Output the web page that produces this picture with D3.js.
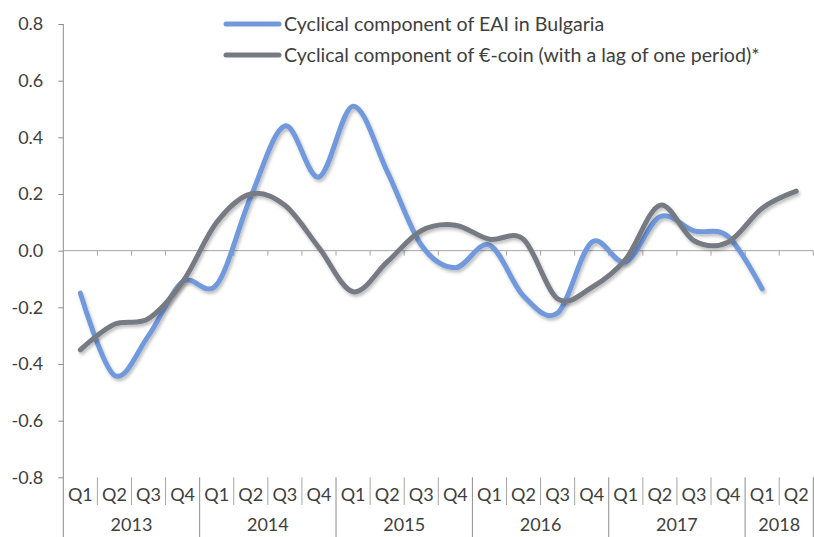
<!DOCTYPE html>
<html>
<head>
<meta charset="utf-8">
<script src="https://cdn.jsdelivr.net/npm/d3@7"></script>
<style>
  html, body { margin: 0; padding: 0; background: #fff; }
  svg { display: block; font-family: Lato, "Open Sans", sans-serif; }
</style>
</head>
<body>
<div id="chart"></div>
<script>
// quarters Q1 2013 .. Q2 2018
const QUARTERS = ["Q1","Q2","Q3","Q4","Q1","Q2","Q3","Q4","Q1","Q2","Q3","Q4",
                  "Q1","Q2","Q3","Q4","Q1","Q2","Q3","Q4","Q1","Q2"];
const YEARS = [
  { label: "2013", start: 0, end: 4 },
  { label: "2014", start: 4, end: 8 },
  { label: "2015", start: 8, end: 12 },
  { label: "2016", start: 12, end: 16 },
  { label: "2017", start: 16, end: 20 },
  { label: "2018", start: 20, end: 22 }
];
const Y_TICKS = [-0.8, -0.6, -0.4, -0.2, 0, 0.2, 0.4, 0.6, 0.8];

// Cyclical component of EAI in Bulgaria (ends Q1 2018)
const EAI = [-0.15, -0.44, -0.30, -0.11, -0.12, 0.19, 0.44, 0.26, 0.51, 0.28, 0.02, -0.06,
             0.02, -0.16, -0.22, 0.03, -0.04, 0.12, 0.07, 0.05, -0.135];
// Cyclical component of €-coin (lag of one period)
const ECOIN = [-0.35, -0.26, -0.24, -0.11, 0.10, 0.20, 0.16, 0.01, -0.145, -0.04, 0.07, 0.09,
               0.04, 0.04, -0.17, -0.13, -0.03, 0.16, 0.035, 0.03, 0.15, 0.21];

const SERIES = [
  { name: "Cyclical component of EAI in Bulgaria", values: EAI, color: "#7199dc" },
  { name: "Cyclical component of €-coin (with a lag of one period)*", values: ECOIN, color: "#767a83" }
];

const width = 814, height = 537;
const m = { left: 63.3, right: 813.3, top: 24, bottom: 477.3 };
const axisColor = "#8c8c8c";
const textColor = "#404040";
const fontSize = 18;

const svg = d3.select("#chart").append("svg")
  .attr("width", width)
  .attr("height", height);

const defs = svg.append("defs");
const shadow = defs.append("filter")
  .attr("id", "shadow")
  .attr("x", "-10%").attr("y", "-10%")
  .attr("width", "120%").attr("height", "130%");
shadow.append("feDropShadow")
  .attr("dx", 1.5).attr("dy", 2.5)
  .attr("stdDeviation", 1.5)
  .attr("flood-color", "#000")
  .attr("flood-opacity", 0.25);

const x = d3.scaleBand()
  .domain(d3.range(QUARTERS.length))
  .range([m.left, m.right]);

const y = d3.scaleLinear()
  .domain([-0.8, 0.8])
  .range([m.bottom, m.top]);

const cx = i => x(i) + x.bandwidth() / 2;

// ----- Y axis -----
const yAxis = svg.append("g")
  .attr("transform", `translate(${m.left},0)`)
  .call(d3.axisLeft(y)
    .tickValues(Y_TICKS)
    .tickFormat(d => d.toFixed(1))
    .tickSize(5)
    .tickPadding(15)
    .tickSizeOuter(0));
yAxis.select(".domain").remove();
yAxis.selectAll(".tick line").attr("stroke", axisColor);
yAxis.selectAll(".tick text")
  .attr("fill", textColor)
  .attr("font-size", fontSize)
  .attr("font-family", "Lato, sans-serif");

svg.append("line")
  .attr("x1", m.left).attr("x2", m.left)
  .attr("y1", m.top).attr("y2", height)
  .attr("stroke", axisColor);

// ----- zero line with ticks at category boundaries -----
svg.append("line")
  .attr("x1", m.left).attr("x2", m.right)
  .attr("y1", y(0)).attr("y2", y(0))
  .attr("stroke", "#a6a6a6");

svg.append("g").selectAll("line")
  .data(d3.range(1, QUARTERS.length + 1))
  .join("line")
  .attr("x1", i => x(i - 1) + x.bandwidth())
  .attr("x2", i => x(i - 1) + x.bandwidth())
  .attr("y1", y(0))
  .attr("y2", y(0) + 5)
  .attr("stroke", "#a6a6a6");

// ----- category axis at bottom -----
const yearStarts = new Set(YEARS.map(d => d.start));
svg.append("g").selectAll("line")
  .data(d3.range(1, QUARTERS.length + 1))
  .join("line")
  .attr("x1", i => x(i - 1) + x.bandwidth())
  .attr("x2", i => x(i - 1) + x.bandwidth())
  .attr("y1", m.bottom)
  .attr("y2", i => (yearStarts.has(i) || i === QUARTERS.length) ? height : 505)
  .attr("stroke", i => (yearStarts.has(i) || i === QUARTERS.length) ? axisColor : "#a6a6a6");

svg.append("g").selectAll("text")
  .data(QUARTERS)
  .join("text")
  .attr("x", (d, i) => cx(i))
  .attr("y", 495)
  .attr("dy", "0.35em")
  .attr("text-anchor", "middle")
  .attr("font-size", fontSize)
  .attr("fill", textColor)
  .text(d => d);

svg.append("g").selectAll("text")
  .data(YEARS)
  .join("text")
  .attr("x", d => (x(d.start) + x(d.end - 1) + x.bandwidth()) / 2)
  .attr("y", 525)
  .attr("dy", "0.35em")
  .attr("text-anchor", "middle")
  .attr("font-size", fontSize)
  .attr("fill", textColor)
  .text(d => d.label);

// ----- lines -----
const line = d3.line()
  .x((d, i) => cx(i))
  .y(d => y(d))
  .curve(d3.curveCatmullRom.alpha(0));

SERIES.forEach(s => {
  svg.append("path")
    .datum(s.values)
    .attr("fill", "none")
    .attr("stroke", s.color)
    .attr("stroke-width", 5)
    .attr("stroke-linecap", "round")
    .attr("stroke-linejoin", "round")
    .attr("filter", "url(#shadow)")
    .attr("d", line);
});

// ----- legend -----
const legend = svg.append("g");
SERIES.forEach((s, i) => {
  const ly = 24 + i * 31;
  legend.append("line")
    .attr("x1", 226).attr("x2", 279)
    .attr("y1", ly).attr("y2", ly)
    .attr("stroke", s.color)
    .attr("stroke-width", 5)
    .attr("stroke-linecap", "round");
  legend.append("text")
    .attr("x", 284)
    .attr("y", ly)
    .attr("dy", "0.35em")
    .attr("font-size", 19.6)
    .attr("fill", textColor)
    .text(s.name);
});
</script>
</body>
</html>
